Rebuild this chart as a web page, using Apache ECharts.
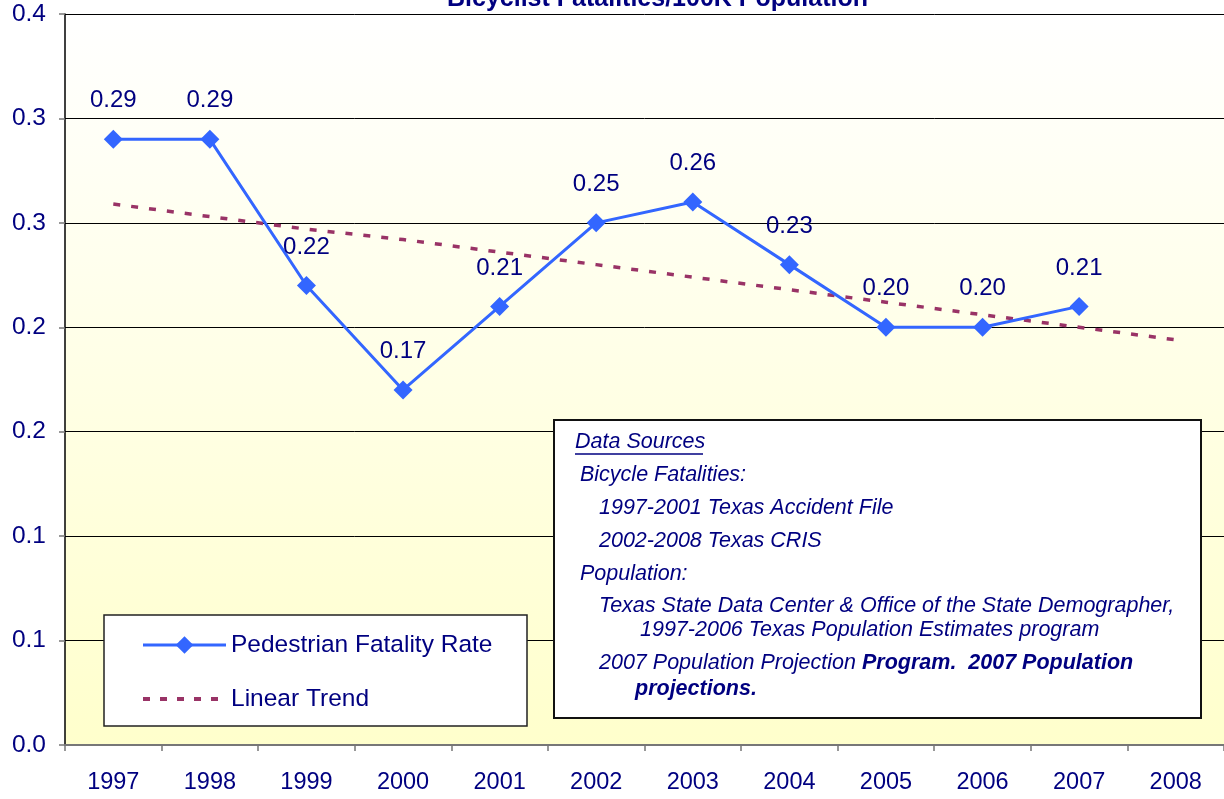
<!DOCTYPE html>
<html>
<head>
<meta charset="utf-8">
<script src="https://cdn.jsdelivr.net/npm/echarts@6/dist/echarts.min.js"></script>
<style>html,body{margin:0;padding:0;background:#fff}#c{width:1224px;height:799px}</style>
</head>
<body>
<div id="c"></div>
<script>
var years = ['1997','1998','1999','2000','2001','2002','2003','2004','2005','2006','2007','2008'];
var fatalityRate = [0.29, 0.29, 0.22, 0.17, 0.21, 0.25, 0.26, 0.23, 0.20, 0.20, 0.21, null];
var linearTrend = [0.259, 0.253, 0.247, 0.242, 0.236, 0.230, 0.224, 0.218, 0.212, 0.206, 0.200, 0.194];
var yTickLabels = ['0.0','0.1','0.1','0.2','0.2','0.3','0.3','0.4'];
var sourceLines = [
  'Bicycle Fatalities:',
  '1997-2001 Texas Accident File',
  '2002-2008 Texas CRIS',
  'Population:',
  'Texas State Data Center & Office of the State Demographer,',
  '1997-2006 Texas Population Estimates program'
];

var navy = '#000080';
var font = 'Liberation Sans, Arial, sans-serif';
var chart = echarts.init(document.getElementById('c'));
var fs = 21.5;

function srcText(x, y, text, extra) {
  var st = {x: x, y: y, text: text, font: 'italic ' + fs + 'px ' + font, fill: navy, textVerticalAlign: 'middle'};
  if (extra) for (var k in extra) st[k] = extra[k];
  return {type: 'text', z: 100, style: st};
}

chart.setOption({
  animation: false,
  backgroundColor: '#ffffff',
  title: {
    text: 'Bicyclist Fatalities/100K Population',
    left: 447, top: -13, padding: 0,
    textStyle: {color: navy, fontSize: 25, fontWeight: 'bold', fontFamily: font}
  },
  grid: {
    left: 65, right: 0, top: 14, bottom: 54, show: true, borderWidth: 0,
    backgroundColor: new echarts.graphic.LinearGradient(0, 0, 0, 1, [
      {offset: 0, color: '#ffffff'},
      {offset: 1, color: '#ffffcc'}
    ])
  },
  legend: {
    orient: 'vertical', left: 141, top: 632, padding: 0,
    itemWidth: 83, itemHeight: 22, itemGap: 28,
    textStyle: {color: navy, fontSize: 24.5, fontFamily: font, lineHeight: 26},
    data: [
      {name: 'Pedestrian Fatality Rate', lineStyle: {width: 3, color: '#3366ff'}},
      {name: 'Linear Trend', lineStyle: {width: 4, color: '#993366', type: [7, 10]},
       itemStyle: {color: 'rgba(0,0,0,0)', borderColor: 'rgba(0,0,0,0)', borderWidth: 0}}
    ]
  },
  xAxis: {
    type: 'category', data: years, boundaryGap: true,
    axisLine: {lineStyle: {color: '#777', width: 2}},
    axisTick: {show: true, length: 6, lineStyle: {color: '#777', width: 1.5}},
    axisLabel: {color: navy, fontSize: 23.5, fontFamily: font, margin: 26}
  },
  yAxis: {
    type: 'value', min: 0, max: 0.35, interval: 0.05,
    axisLine: {show: true, lineStyle: {color: '#000', width: 1.5}},
    axisTick: {show: true, length: 6, lineStyle: {color: '#777', width: 1.5}},
    splitLine: {show: true, lineStyle: {color: '#000', width: 1}},
    axisLabel: {
      color: navy, fontSize: 24.5, fontFamily: font, margin: 19,
      formatter: function (v, i) { return yTickLabels[i]; }
    }
  },
  series: [
    {
      name: 'Linear Trend', type: 'line', data: linearTrend,
      symbol: 'none', z: 3,
      lineStyle: {color: '#993366', width: 3.5, type: [7, 11]},
      itemStyle: {color: '#993366'}
    },
    {
      name: 'Pedestrian Fatality Rate', type: 'line', data: fatalityRate,
      symbol: 'diamond', symbolSize: 19, z: 4,
      lineStyle: {color: '#3366ff', width: 3},
      itemStyle: {color: '#3366ff'},
      label: {
        show: true, position: 'top', distance: 17, color: navy, fontSize: 24, fontFamily: font,
        formatter: function (p) { return p.value.toFixed(2); }
      }
    }
  ],
  graphic: [
    {type: 'rect', z: 3, shape: {x: 104, y: 615, width: 423, height: 111},
     style: {fill: '#ffffff', stroke: '#222', lineWidth: 1.5}},
    {type: 'rect', z: 99, shape: {x: 554, y: 420, width: 647, height: 298},
     style: {fill: '#ffffff', stroke: '#111', lineWidth: 2}},
    srcText(575, 442, 'Data Sources'),
    {type: 'line', z: 100, shape: {x1: 575, y1: 454, x2: 703, y2: 454}, style: {stroke: navy, lineWidth: 1.5}},
    srcText(580, 475, sourceLines[0]),
    srcText(599, 508, sourceLines[1]),
    srcText(599, 541, sourceLines[2]),
    srcText(580, 574, sourceLines[3]),
    srcText(599, 606, sourceLines[4]),
    srcText(640, 630, sourceLines[5]),
    {type: 'text', z: 100, style: {x: 599, y: 663, textVerticalAlign: 'middle',
      text: '{a|2007 Population Projection }{b|Program.  2007 Population}',
      rich: {
        a: {font: 'italic ' + fs + 'px ' + font, fill: navy, color: navy},
        b: {font: 'italic bold ' + fs + 'px ' + font, fill: navy, color: navy}
      }}},
    srcText(635, 689, 'projections.', {font: 'italic bold ' + fs + 'px ' + font})
  ]
});
</script>
</body>
</html>
